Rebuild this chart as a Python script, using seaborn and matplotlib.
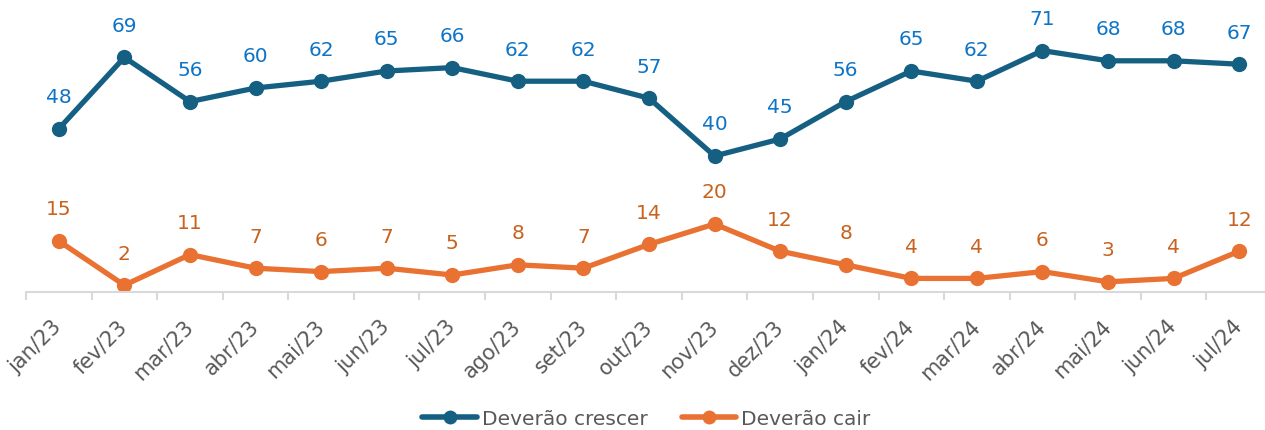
import numpy as np
import pandas as pd
import matplotlib
matplotlib.use("Agg")
import matplotlib.pyplot as plt
import seaborn as sns
from matplotlib.ticker import FixedLocator
from matplotlib.lines import Line2D

months = ["jan/23", "fev/23", "mar/23", "abr/23", "mai/23", "jun/23", "jul/23",
          "ago/23", "set/23", "out/23", "nov/23", "dez/23", "jan/24", "fev/24",
          "mar/24", "abr/24", "mai/24", "jun/24", "jul/24"]
crescer = [48, 69, 56, 60, 62, 65, 66, 62, 62, 57, 40, 45, 56, 65, 62, 71, 68, 68, 67]
cair = [15, 2, 11, 7, 6, 7, 5, 8, 7, 14, 20, 12, 8, 4, 4, 6, 3, 4, 12]
series_names = ["Deverão crescer", "Deverão cair"]

line_colors = ["#156082", "#E97132"]
label_colors = ["#0E74C6", "#C8621E"]

sns.set_theme(style="white")
plt.rcParams["font.family"] = ["DejaVu Sans"]

df = pd.DataFrame({
    "idx": list(range(len(months))) * 2,
    "valor": crescer + cair,
    "serie": [series_names[0]] * len(months) + [series_names[1]] * len(months),
})

W, H = 1265, 431
fig = plt.figure(figsize=(W / 100, H / 100), dpi=100)
ymax = 85
px_per_unit = 3.4
ax_left, ax_right = 26, 1272
ax_bottom = 293
ax_h = ymax * px_per_unit
ax = fig.add_axes([ax_left / W, (H - ax_bottom) / H, (ax_right - ax_left) / W, ax_h / H])

sns.lineplot(data=df, x="idx", y="valor", hue="serie", palette=line_colors,
             hue_order=series_names, marker="o", markersize=11, linewidth=3.8,
             markeredgewidth=0, ax=ax, legend=False)

for vals, col in zip([crescer, cair], label_colors):
    for i, v in enumerate(vals):
        ax.annotate(str(v), (i, v), xytext=(0, 32), textcoords="offset pixels",
                    ha="center", va="center", fontsize=14.5, color=col)

ax.set_xlim(-0.5, len(months) - 0.5)
ax.set_ylim(0, ymax)
ax.set_yticks([])
ax.set_xlabel("")
ax.set_ylabel("")
for s in ["top", "right", "left"]:
    ax.spines[s].set_visible(False)
ax.spines["bottom"].set_color("#D9D9D9")
ax.spines["bottom"].set_linewidth(1.5)

ax.set_xticks(range(len(months)))
ax.set_xticklabels(months, rotation=45, ha="right", va="center",
                   rotation_mode="anchor", fontsize=15, color="#595959")
ax.tick_params(axis="x", which="major", length=0, pad=22)
ax.xaxis.set_minor_locator(FixedLocator(np.arange(-0.5, len(months), 1.0)))
ax.tick_params(axis="x", which="minor", length=6, width=1.5, color="#D9D9D9",
               bottom=True, direction="out")

handles = [Line2D([0], [0], color=c, lw=4, marker="o", markersize=10,
                  markeredgewidth=0) for c in line_colors]
fig.legend(handles, series_names, loc="center", bbox_to_anchor=(0.511, 1 - 420 / H),
           ncol=2, frameon=False, fontsize=14.5, labelcolor="#595959",
           handlelength=2.7, handletextpad=0.25, columnspacing=1.7)

fig.savefig("out.png", dpi=100)
